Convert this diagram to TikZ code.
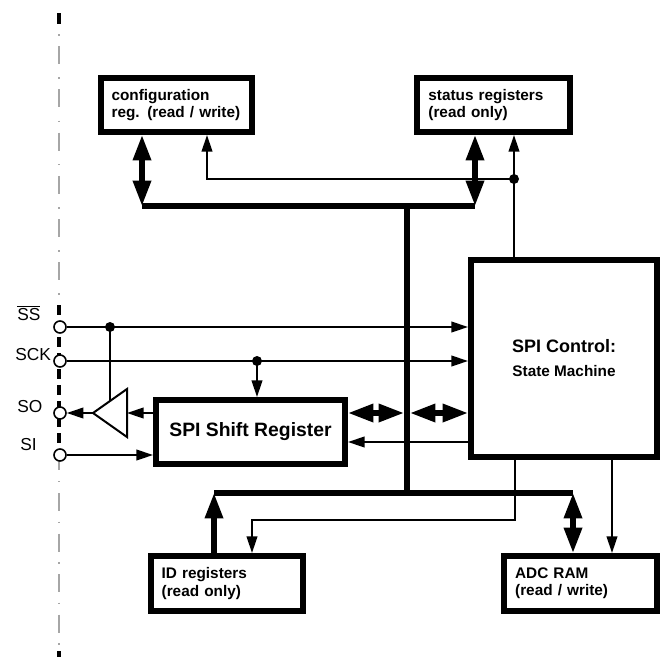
\documentclass[tikz,border=0pt]{standalone}
\usepackage{fontspec}
\setmainfont{Liberation Sans}
\usetikzlibrary{arrows.meta,calc}
\tikzset{
  regbox/.style={rectangle, draw=black, line width=4.5pt, align=left, inner xsep=8pt, inner ysep=0pt, font=\fontsize{11.5}{13}\selectfont\bfseries},
  pin/.style={circle, draw=black, fill=white, line width=1.2pt, minimum size=9pt, inner sep=0pt},
  junc/.style={circle, fill=black, minimum size=7.5pt, inner sep=0pt},
  pinlbl/.style={anchor=base west, inner sep=0pt, font=\fontsize{13}{15}\selectfont},
  sig/.style={-{Triangle[length=12.5pt,width=8pt]}, line width=1.5pt},
  wire/.style={line width=1.5pt},
  bus/.style={line width=4.5pt},
  busarrow/.style={{Triangle[length=19pt,width=13pt]}-{Triangle[length=19pt,width=13pt]}, line width=4pt},
  busup/.style={-{Triangle[length=19pt,width=13pt]}, line width=4pt},
  centreline/.style={gray!70, line width=0.8pt}
}
\begin{document}
\begin{tikzpicture}[x=0.75pt, y=-0.75pt]
\useasboundingbox (0,0) rectangle (666,657);
% package edge
\draw[centreline, dash pattern=on 1.125pt off 7.875pt on 13.5pt off 9.9pt] (59,34.25) -- (59,300);
\draw[centreline, dash pattern=on 13.5pt off 7.9pt on 1.1pt off 7.9pt, dash phase=6.4pt] (59,461) -- (59,650);
\draw[line width=2.5pt] (59,13) -- (59,24);
\draw[line width=2.5pt, dash pattern=on 7.5pt off 4.5pt] (59,305) -- (59,450);
\draw[line width=2.5pt] (59,651) -- (59,657);

% blocks
\node[regbox, text width=97pt, minimum width=113.6pt, minimum height=40.5pt] (cfg) at (176.25,105) {configuration\\reg. (read / write)};
\node[regbox, text width=98pt, minimum width=114.4pt, minimum height=40.5pt] (stat) at (493.75,105) {status registers\\(read only)};
\node[regbox, align=center, minimum width=139.5pt, minimum height=147.75pt, font=\fontsize{11.5}{14}\selectfont\bfseries] (ctl) at (564,358.5) {{\fontsize{13.5}{16}\selectfont SPI Control:}\\[4pt]State Machine};
\node[regbox, align=center, minimum width=141.75pt, minimum height=48pt, font=\fontsize{14.5}{17}\selectfont\bfseries] (shr) at (250.5,432) {SPI Shift Register};
\node[regbox, text width=98pt, minimum width=114pt, minimum height=41.25pt] (idr) at (227,583.5) {ID registers\\(read only)};
\node[regbox, text width=98pt, minimum width=114.75pt, minimum height=41.25pt] (adc) at (580.5,583.5) {ADC RAM\\(read / write)};

% pins
\node[pin] (ss) at (60,327) {};
\node[pin] (sck) at (60,361) {};
\node[pin] (so) at (60,413) {};
\node[pin] (si) at (60,455) {};
\node[pinlbl] (sslbl) at (17,320) {$\overline{\mbox{SS}}$};
\node[pinlbl] (scklbl) at (15,360) {SCK};
\node[pinlbl] (solbl) at (17,412) {SO};
\node[pinlbl] (silbl) at (20,450) {SI};

% internal bus
\coordinate (tbl) at (142,206);
\coordinate (tbr) at (475,206);
\coordinate (vbt) at (407,206);
\coordinate (vbb) at (407,493);
\coordinate (lbl) at (214,493);
\coordinate (lbr) at (573,493);
\coordinate (vbx) at (407,413);
\draw[bus] (tbl) -- (tbr);
\draw[bus] (vbt) -- (vbb);
\draw[bus] (lbl) -- (lbr);
\draw[busarrow] (tbl |- cfg.south) -- (tbl);
\draw[busarrow] (tbr |- stat.south) -- (tbr);
\draw[busup] (lbl |- idr.north) -- (lbl);
\draw[busarrow] (lbr) -- (lbr |- adc.north);
\draw[busarrow] (shr.east |- vbx) -- ([xshift=-2.25pt]vbx);
\draw[busarrow] ([xshift=2.25pt]vbx) -- (ctl.west |- vbx);

% control lines
\node[junc] (fbj) at (514,179) {};
\coordinate (cfgin) at (207,179);
\draw[sig] (ctl.north -| fbj) -- (stat.south -| fbj);
\draw[sig] (fbj.center) -- (cfgin) -- (cfgin |- cfg.south);
\draw[sig] (ss) -- (ss -| ctl.west);
\draw[sig] (sck) -- (sck -| ctl.west);
\node[junc] (ssj) at (110,327) {};
\node[junc] (sckj) at (257,361) {};
\draw[sig] (sckj.center) -- (sckj |- shr.north);

% output buffer
\coordinate (buftip) at (93,413);
\coordinate (bufbase) at (127,413);
\coordinate (bufen) at (110,401);
\draw[wire, line join=miter] (buftip) -- (127,389) -- (127,437) -- cycle;
\draw[wire] (ssj.center) -- (bufen);
\draw[sig] (shr.west |- bufbase) -- (bufbase);
\draw[sig] (buftip) -- (so);
\draw[sig] (si) -- (si -| shr.west);
\draw[sig] (ctl.west |- 0,442) -- (shr.east |- 0,442);

% control to memories
\coordinate (idturn) at (252,520);
\draw[sig] (ctl.south -| 515,0) |- (idturn) -- (idturn |- idr.north);
\draw[sig] (ctl.south -| 612,0) -- (adc.north -| 612,0);
\end{tikzpicture}
\end{document}
